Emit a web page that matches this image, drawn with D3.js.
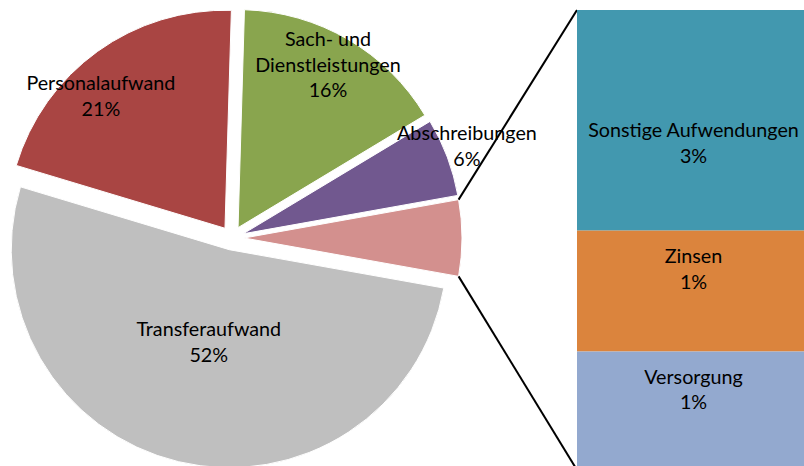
<!DOCTYPE html>
<html>
<head>
<meta charset="utf-8">
<script src="https://cdn.jsdelivr.net/npm/d3@7/dist/d3.min.js"></script>
<style>
  html, body { margin: 0; padding: 0; background: #fff; }
  svg { display: block; }
  text { font-family: Lato, "Open Sans", sans-serif; fill: #000; }
</style>
</head>
<body>
<svg id="chart" width="804" height="466"></svg>
<script>
// ---- data ----
const categories = ["Personalaufwand", "Sach- und Dienstleistungen", "Abschreibungen", "Transferaufwand"];
const values = [20.8, 15.9, 5.8, 51.8];
const barCategories = ["Sonstige Aufwendungen", "Zinsen", "Versorgung"];
const barValues = [2.7, 1.48, 1.45];

// ---- styles / layout ----
const W = 804, H = 466;
const colors = {
  "Personalaufwand": "#A94543",
  "Sach- und Dienstleistungen": "#89A54E",
  "Abschreibungen": "#71588F",
  "Transferaufwand": "#BFBFBF",
  "Other": "#D3908E",
  "Sonstige Aufwendungen": "#4298AF",
  "Zinsen": "#DB843D",
  "Versorgung": "#93A9CF"
};
const labelLines = {
  "Sach- und Dienstleistungen": ["Sach- und", "Dienstleistungen"]
};
const labelPlace = {
  "Personalaufwand": { r: 0.832, da: -7.4 },
  "Sach- und Dienstleistungen": { r: 0.853, da: -1.4 },
  "Abschreibungen": { r: 1.102, da: -0.8 },
  "Transferaufwand": { r: 0.435, da: -1.0 }
};
const barLabelShift = { "Sonstige Aufwendungen": 23, "Zinsen": -22, "Versorgung": -21 };

const cx = 232, cy = 238, R = 218, explode = 12;
const barX = 577, barW = 229, barTop = 10, barBottom = 470;
const lineH = 25.5;

const svg = d3.select("#chart");

// font size so that text width resembles the original
const probe = svg.append("text").attr("font-size", 20).text("Personalaufwand");
const probeW = probe.node().getComputedTextLength();
probe.remove();
const fs = 20 * 149 / probeW;

const otherTotal = d3.sum(barValues);
const pieItems = [{ name: "Other", value: otherTotal }];
["Transferaufwand", "Personalaufwand", "Sach- und Dienstleistungen", "Abschreibungen"].forEach(n => {
  pieItems.push({ name: n, value: values[categories.indexOf(n)] });
});
const total = d3.sum(pieItems, d => d.value);
const otherHalf = Math.PI * otherTotal / total;

const pie = d3.pie().sort(null).value(d => d.value)
  .startAngle(Math.PI / 2 - otherHalf)
  .endAngle(Math.PI / 2 - otherHalf + 2 * Math.PI);
const arcs = pie(pieItems);
const arc = d3.arc().innerRadius(0).outerRadius(R);

const g = svg.append("g").attr("transform", `translate(${cx},${cy})`);

function sliceOffset(a) {
  const m = (a.startAngle + a.endAngle) / 2;
  return [explode * Math.sin(m), -explode * Math.cos(m)];
}

g.selectAll("path.slice").data(arcs).join("path")
  .attr("class", "slice")
  .attr("d", arc)
  .attr("transform", d => { const o = sliceOffset(d); return `translate(${o[0]},${o[1]})`; })
  .attr("fill", d => colors[d.data.name])
  .attr("stroke", "#fff").attr("stroke-width", 1);

// connector lines
const otherArc = arcs[0];
const oOff = sliceOffset(otherArc);
const p1 = [cx + oOff[0] + R * Math.sin(otherArc.startAngle), cy + oOff[1] - R * Math.cos(otherArc.startAngle)];
const p2 = [cx + oOff[0] + R * Math.sin(otherArc.endAngle), cy + oOff[1] - R * Math.cos(otherArc.endAngle)];

const y = d3.scaleLinear().domain([0, otherTotal]).range([barTop, barBottom]);
const stack = [];
let acc = 0;
barCategories.forEach((c, i) => { stack.push({ name: c, value: barValues[i], y0: acc, y1: acc + barValues[i] }); acc += barValues[i]; });

svg.append("line").attr("x1", p1[0]).attr("y1", p1[1]).attr("x2", barX).attr("y2", y(0))
  .attr("stroke", "#000").attr("stroke-width", 2);
svg.append("line").attr("x1", p2[0]).attr("y1", p2[1]).attr("x2", barX).attr("y2", y(otherTotal))
  .attr("stroke", "#000").attr("stroke-width", 2);

svg.selectAll("rect.seg").data(stack).join("rect")
  .attr("class", "seg")
  .attr("x", barX).attr("width", barW)
  .attr("y", d => y(d.y0)).attr("height", d => y(d.y1) - y(d.y0))
  .attr("fill", d => colors[d.name]);

function drawLabel(x0, y0, lines) {
  const t = svg.append("text").attr("text-anchor", "middle").attr("font-size", fs);
  lines.forEach((l, i) => {
    t.append("tspan").attr("x", x0)
      .attr("y", y0 + (i - (lines.length - 1) / 2) * lineH + 0.35 * fs)
      .text(l);
  });
}

const pct = v => Math.round(v / total * 100) + "%";

arcs.slice(1).forEach(a => {
  const n = a.data.name;
  const p = labelPlace[n];
  const o = sliceOffset(a);
  const m = (a.startAngle + a.endAngle) / 2 + p.da * Math.PI / 180;
  const lx = cx + o[0] + p.r * R * Math.sin(m);
  const ly = cy + o[1] - p.r * R * Math.cos(m);
  drawLabel(lx, ly, (labelLines[n] || [n]).concat([pct(a.data.value)]));
});

stack.forEach(s => {
  const lx = barX + barW / 2 + 2;
  const ly = (y(s.y0) + y(s.y1)) / 2 + barLabelShift[s.name];
  drawLabel(lx, ly, [s.name, pct(s.value)]);
});
</script>
</body>
</html>
